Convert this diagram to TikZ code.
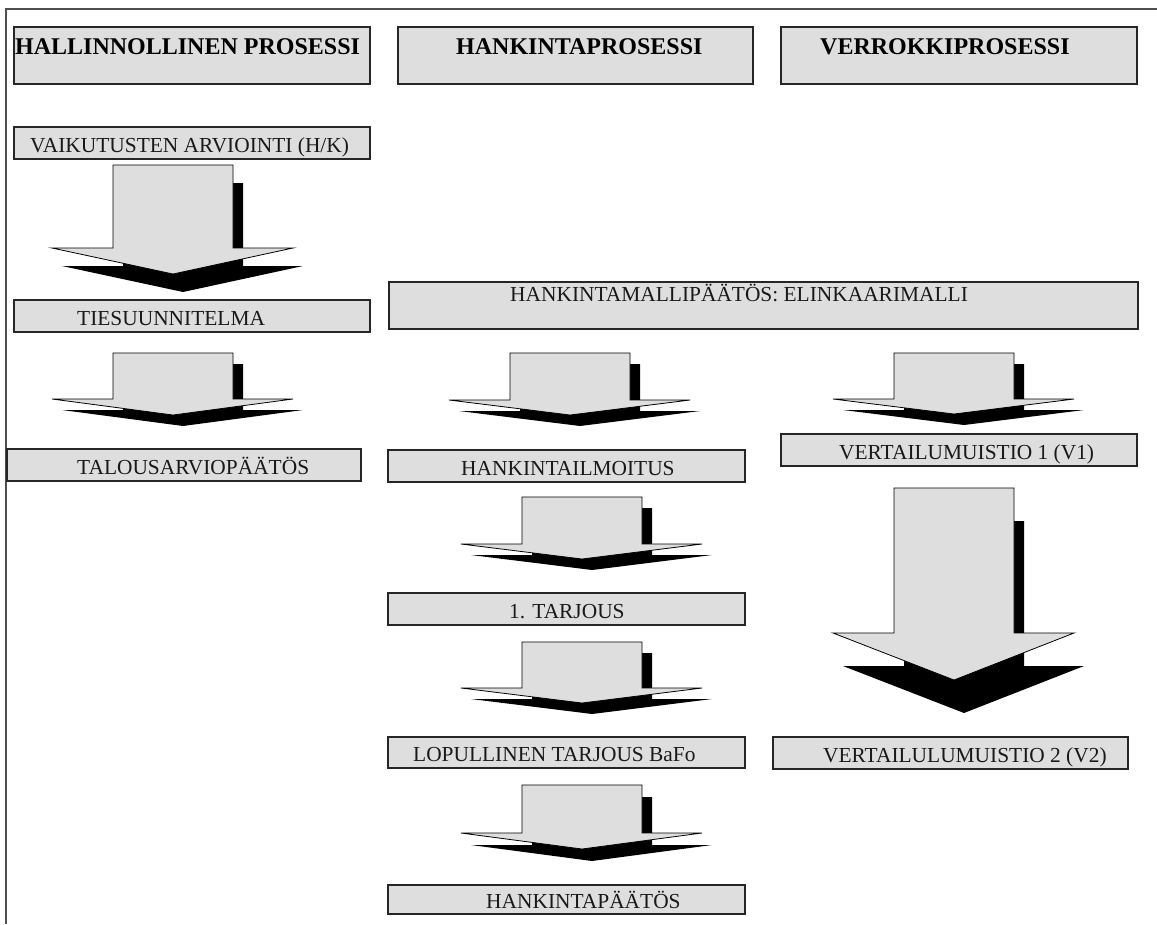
\documentclass[tikz,border=0pt]{standalone}
\usepackage{fontspec}
\setmainfont{Liberation Serif}
\definecolor{boxgray}{RGB}{222,222,222}
\definecolor{framegray}{RGB}{80,80,80}
\tikzset{
  procbox/.style={draw=black!85, line width=1.2pt, fill=boxgray, rectangle, inner sep=0pt, outer sep=0pt},
  headtext/.style={inner sep=0pt, anchor=base west, font=\fontsize{24pt}{28pt}\selectfont\bfseries},
  boxtext/.style={inner sep=0pt, anchor=base west, font=\fontsize{21.4pt}{25pt}\selectfont, text=black!90},
  arrowbody/.style={fill=boxgray, draw=black, line width=0.8pt, line join=miter},
  arrowshadow/.style={fill=black},
  frameline/.style={draw=framegray, line width=1.5pt}
}
% box: name, x1, y1, x2, y2
\newcommand\procrect[5]{%
  \node[procbox, anchor=north west, minimum width={(#4-#2)*1pt}, minimum height={(#5-#3)*1pt}] (#1) at (#2,#3) {};}
% arrow: name, cx, top, shoulder, tip, shadow dy
\newcommand\fatarrow[6]{%
  \coordinate (#1-top) at (#2,#3);
  \coordinate (#1-tip) at (#2,#5);
  \fill[arrowshadow, shift={(10,#6)}] ({#2-60},#3) -- ({#2+60},#3) -- ({#2+60},#4) -- ({#2+120},#4) -- (#2,#5) -- ({#2-121},#4) -- ({#2-60},#4) -- cycle;
  \filldraw[arrowbody] ({#2-60},#3) -- ({#2+60},#3) -- ({#2+60},#4) -- ({#2+120},#4) -- (#1-tip) -- ({#2-121},#4) -- ({#2-60},#4) -- cycle;}
\begin{document}
\begin{tikzpicture}[x=1pt, y=-1pt]
\useasboundingbox (0,0) rectangle (1157,924);
\coordinate (fr-tr) at (1157,9);
\coordinate (fr-tl) at (6,9);
\coordinate (fr-bl) at (6,924);
\draw[frameline] (fr-tr) -- (fr-tl) -- (fr-bl);

% headers
\procrect{h1}{14}{27}{370}{84}
\procrect{h2}{398}{27}{753}{84}
\procrect{h3}{781}{27}{1137}{84}
\node[headtext] (h1t) at (15,54) {HALLINNOLLINEN PROSESSI};
\node[headtext] (h2t) at (456,54) {HANKINTAPROSESSI};
\node[headtext] (h3t) at (820,54) {VERROKKIPROSESSI};

% column 1
\procrect{b1}{14}{127}{370}{159}
\node[boxtext] (b1t) at (30,152.5) {VAIKUTUSTEN ARVIOINTI (H/K)};
\fatarrow{a1}{173}{165}{248}{274}{18}
\procrect{b2}{14}{300}{370}{332}
\node[boxtext] (b2t) at (77,325) {TIESUUNNITELMA};
\fatarrow{a2}{173}{353}{399}{415}{11}
\procrect{b3}{7}{449}{361}{481}
\node[boxtext] (b3t) at (77,474) {TALOUSARVIOPÄÄTÖS};

% wide box
\procrect{b4}{389}{282}{1138}{329}
\node[boxtext] (b4t) at (510,301) {HANKINTAMALLIPÄÄTÖS: ELINKAARIMALLI};

% column 2
\fatarrow{a3}{570}{353}{400}{415}{11}
\procrect{b5}{388}{450}{745}{482}
\node[boxtext] (b5t) at (461,475) {HANKINTAILMOITUS};
\fatarrow{a5}{582}{497}{544}{559}{11}
\procrect{b6}{388}{593}{745}{625}
\node[boxtext] (b6t) at (509,618) {1. TARJOUS};
\fatarrow{a6}{582}{642}{688}{703}{11}
\procrect{b7}{388}{737}{745}{768}
\node[boxtext] (b7t) at (413,761.5) {LOPULLINEN TARJOUS BaFo};
\fatarrow{a7}{582}{785}{833}{849}{12}
\procrect{b8}{388}{885}{745}{914}
\node[boxtext] (b8t) at (486,908) {HANKINTAPÄÄTÖS};

% column 3
\fatarrow{a4}{954}{353}{399}{414}{11}
\procrect{b9}{781}{434}{1137}{466}
\node[boxtext] (b9t) at (839,459) {VERTAILUMUISTIO 1 (V1)};
\fatarrow{a8}{954}{488}{633}{680}{33}
\procrect{b10}{773}{737}{1128}{769}
\node[boxtext] (b10t) at (823,762) {VERTAILULUMUISTIO 2 (V2)};
\end{tikzpicture}
\end{document}
